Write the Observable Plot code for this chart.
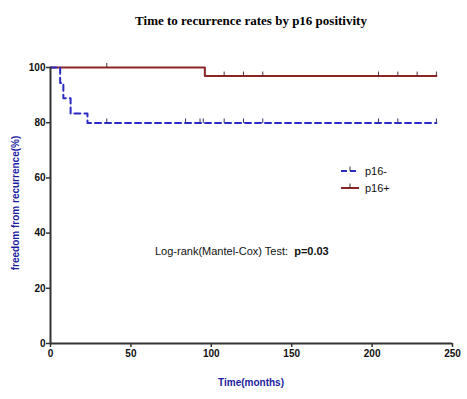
<!DOCTYPE html>
<html>
<head>
<meta charset="utf-8">
<script src="https://cdn.jsdelivr.net/npm/d3@7"></script>
<script src="https://cdn.jsdelivr.net/npm/@observablehq/plot@0.6"></script>
<style>
  html, body { margin: 0; padding: 0; background: #fff; }
</style>
</head>
<body>
<div id="chart"></div>
<script>
// ---- data ----
const seriesNames = ["p16-", "p16+"];
const negTimes = [0, 6, 8, 12.5, 23, 240];
const negSurv  = [100, 94.4, 88.9, 83.3, 79.9, 79.9];
const posTimes = [0, 96, 240];
const posSurv  = [100, 96.9, 96.9];
const negCensor = [35, 84, 93, 95, 108, 120, 132, 204, 216, 240];
const posCensor = [35, 108, 120, 132, 204, 216, 228, 240];
const xTicks = [0, 50, 100, 150, 200, 250];
const yTicks = [0, 20, 40, 60, 80, 100];
const titleText = "Time to recurrence rates by p16 positivity";
const xLabel = "Time(months)";
const yLabel = "freedom from recurrence(%)";
const testLabel = "Log-rank(Mantel-Cox) Test:";
const pLabel = "p=0.03";

// ---- styling ----
const colNeg = "#2a2ac4";
const colPos = "#8b2424";
const axisCol = "#333";
const labelBlue = "#1c1c9e";

function stepValue(times, surv, t) {
  let v = surv[0];
  for (let i = 0; i < times.length; i++) if (times[i] <= t) v = surv[i];
  return v;
}
const negLine = negTimes.map((t, i) => ({t, s: negSurv[i]}));
const posLine = posTimes.map((t, i) => ({t, s: posSurv[i]}));
const negCens = negCensor.map(t => ({t, s: stepValue(negTimes, negSurv, t)}));
const posCens = posCensor.map(t => ({t, s: stepValue(posTimes, posSurv, t)}));

const tickSym = {draw(ctx) { ctx.moveTo(0, 0); ctx.lineTo(0, -4.5); }};

const chart = Plot.plot({
  width: 467,
  height: 399,
  marginLeft: 50,
  marginRight: 15,
  marginTop: 67,
  marginBottom: 56,
  style: {fontFamily: "Arial, 'Liberation Sans', sans-serif", fontSize: "10px", fontWeight: "bold", color: "#111", background: "#fff", overflow: "visible"},
  x: {domain: [0, 250], ticks: xTicks, tickSize: 4, tickPadding: 2, label: null},
  y: {domain: [0, 100], ticks: yTicks, tickSize: 4, tickPadding: 1, label: null},
  marks: [
    Plot.line(posLine, {x: "t", y: "s", curve: "step-after", stroke: colPos, strokeWidth: 2}),
    Plot.line(negLine, {x: "t", y: "s", curve: "step-after", stroke: colNeg, strokeWidth: 2, strokeDasharray: "6,4"}),
    Plot.dot(posCens, {x: "t", y: "s", symbol: tickSym, stroke: "#5a3030", fill: "none", strokeWidth: 1}),
    Plot.dot(negCens, {x: "t", y: "s", symbol: tickSym, stroke: "#333366", fill: "none", strokeWidth: 1}),
    Plot.ruleX([0], {stroke: axisCol, strokeWidth: 2}),
    Plot.ruleY([0], {stroke: axisCol, strokeWidth: 2})
  ]
});
document.getElementById("chart").appendChild(chart);

const svg = d3.select(chart);
svg.selectAll("[aria-label='x-axis tick'], [aria-label='y-axis tick']").attr("stroke", axisCol).attr("stroke-width", 1.5);

// title
svg.append("text").attr("x", 251).attr("y", 25).attr("text-anchor", "middle")
  .attr("font-family", "'Liberation Serif', 'Times New Roman', serif")
  .attr("font-size", 13).attr("font-weight", "bold").attr("fill", "#000").text(titleText);

// axis labels
svg.append("text").attr("x", 251).attr("y", 386).attr("text-anchor", "middle")
  .attr("font-size", 10).attr("font-weight", "bold").attr("fill", labelBlue).text(xLabel);
svg.append("text").attr("transform", "translate(19,203) rotate(-90)").attr("text-anchor", "middle")
  .attr("font-size", 10).attr("font-weight", "bold").attr("fill", labelBlue).text(yLabel);

// legend
const legend = [
  {name: seriesNames[0], color: colNeg, dash: "6,3", y: 171},
  {name: seriesNames[1], color: colPos, dash: null, y: 188}
];
legend.forEach(d => {
  const g = svg.append("g");
  g.append("line").attr("x1", 341).attr("x2", 359).attr("y1", d.y).attr("y2", d.y)
    .attr("stroke", d.color).attr("stroke-width", 2).attr("stroke-dasharray", d.dash);
  g.append("line").attr("x1", 350).attr("x2", 350).attr("y1", d.y).attr("y2", d.y - 4.5)
    .attr("stroke", "#333").attr("stroke-width", 1);
  g.append("text").attr("x", 365).attr("y", d.y).attr("dy", "0.35em").attr("text-anchor", "start")
    .attr("font-size", 11).attr("font-weight", "normal").attr("fill", "#111").text(d.name);
});

// test annotation
const t = svg.append("text").attr("x", 155).attr("y", 251).attr("dy", "0.35em").attr("text-anchor", "start")
  .attr("font-size", 11).attr("fill", "#111");
t.append("tspan").attr("font-weight", "normal").text(testLabel + "\u00a0\u00a0");
t.append("tspan").attr("font-weight", "bold").text(pLabel);
</script>
</body>
</html>
